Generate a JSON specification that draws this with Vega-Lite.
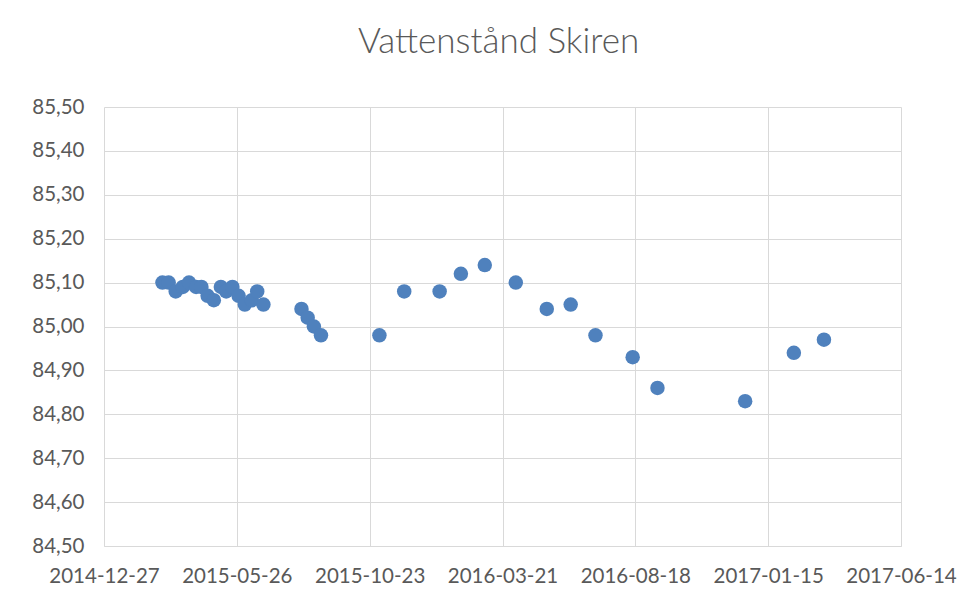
{
  "$schema": "https://vega.github.io/schema/vega-lite/v6.json",
  "autosize": {"type": "none"},
  "width": 797,
  "height": 439,
  "padding": {"left": 104, "top": 107, "right": 73, "bottom": 57},
  "background": "white",
  "title": {
    "text": "Vattenstånd Skiren",
    "fontSize": 35,
    "font": "Lato",
    "fontWeight": 300,
    "color": "#595959",
    "offset": 37,
    "anchor": "middle",
    "dx": -4
  },
  "data": {
    "values": [
      {"datum": "2015-03-03", "niva": 85.10},
      {"datum": "2015-03-10", "niva": 85.10},
      {"datum": "2015-03-18", "niva": 85.08},
      {"datum": "2015-03-26", "niva": 85.09},
      {"datum": "2015-04-02", "niva": 85.10},
      {"datum": "2015-04-10", "niva": 85.09},
      {"datum": "2015-04-16", "niva": 85.09},
      {"datum": "2015-04-23", "niva": 85.07},
      {"datum": "2015-04-30", "niva": 85.06},
      {"datum": "2015-05-08", "niva": 85.09},
      {"datum": "2015-05-14", "niva": 85.08},
      {"datum": "2015-05-21", "niva": 85.09},
      {"datum": "2015-05-28", "niva": 85.07},
      {"datum": "2015-06-04", "niva": 85.05},
      {"datum": "2015-06-12", "niva": 85.06},
      {"datum": "2015-06-18", "niva": 85.08},
      {"datum": "2015-06-25", "niva": 85.05},
      {"datum": "2015-08-07", "niva": 85.04},
      {"datum": "2015-08-14", "niva": 85.02},
      {"datum": "2015-08-21", "niva": 85.00},
      {"datum": "2015-08-29", "niva": 84.98},
      {"datum": "2015-11-03", "niva": 84.98},
      {"datum": "2015-12-01", "niva": 85.08},
      {"datum": "2016-01-10", "niva": 85.08},
      {"datum": "2016-02-03", "niva": 85.12},
      {"datum": "2016-03-01", "niva": 85.14},
      {"datum": "2016-04-05", "niva": 85.10},
      {"datum": "2016-05-10", "niva": 85.04},
      {"datum": "2016-06-06", "niva": 85.05},
      {"datum": "2016-07-04", "niva": 84.98},
      {"datum": "2016-08-15", "niva": 84.93},
      {"datum": "2016-09-12", "niva": 84.86},
      {"datum": "2016-12-20", "niva": 84.83},
      {"datum": "2017-02-13", "niva": 84.94},
      {"datum": "2017-03-19", "niva": 84.97}
    ]
  },
  "mark": {"type": "point", "filled": true, "opacity": 1, "size": 210, "color": "#4F81BD"},
  "encoding": {
    "x": {
      "field": "datum",
      "type": "temporal",
      "title": null,
      "scale": {
        "type": "utc",
        "domain": [
          {"year": 2014, "month": 12, "date": 27, "utc": true},
          {"year": 2017, "month": 6, "date": 14, "utc": true}
        ],
        "nice": false
      },
      "axis": {
        "values": [
          {"year": 2014, "month": 12, "date": 27, "utc": true},
          {"year": 2015, "month": 5, "date": 26, "utc": true},
          {"year": 2015, "month": 10, "date": 23, "utc": true},
          {"year": 2016, "month": 3, "date": 21, "utc": true},
          {"year": 2016, "month": 8, "date": 18, "utc": true},
          {"year": 2017, "month": 1, "date": 15, "utc": true},
          {"year": 2017, "month": 6, "date": 14, "utc": true}
        ],
        "format": "%Y-%m-%d",
        "labelPadding": 20,
        "ticks": false,
        "domainColor": "#d9d9d9",
        "domainWidth": 1,
        "gridColor": "#d9d9d9",
        "labelOverlap": false,
        "labelFlush": false
      }
    },
    "y": {
      "field": "niva",
      "type": "quantitative",
      "title": null,
      "scale": {"domain": [84.5, 85.5], "nice": false, "zero": false},
      "axis": {
        "values": [84.5, 84.6, 84.7, 84.8, 84.9, 85.0, 85.1, 85.2, 85.3, 85.4, 85.5],
        "format": ".2f",
        "labelPadding": 20,
        "ticks": false,
        "domain": false,
        "gridColor": "#d9d9d9"
      }
    }
  },
  "config": {
    "locale": {"number": {"decimal": ",", "thousands": " ", "grouping": [3], "currency": ["", " kr"]}},
    "view": {"stroke": null},
    "axis": {
      "labelFont": "Lato",
      "labelFontSize": 20.5,
      "labelColor": "#595959",
      "gridWidth": 1
    }
  }
}
